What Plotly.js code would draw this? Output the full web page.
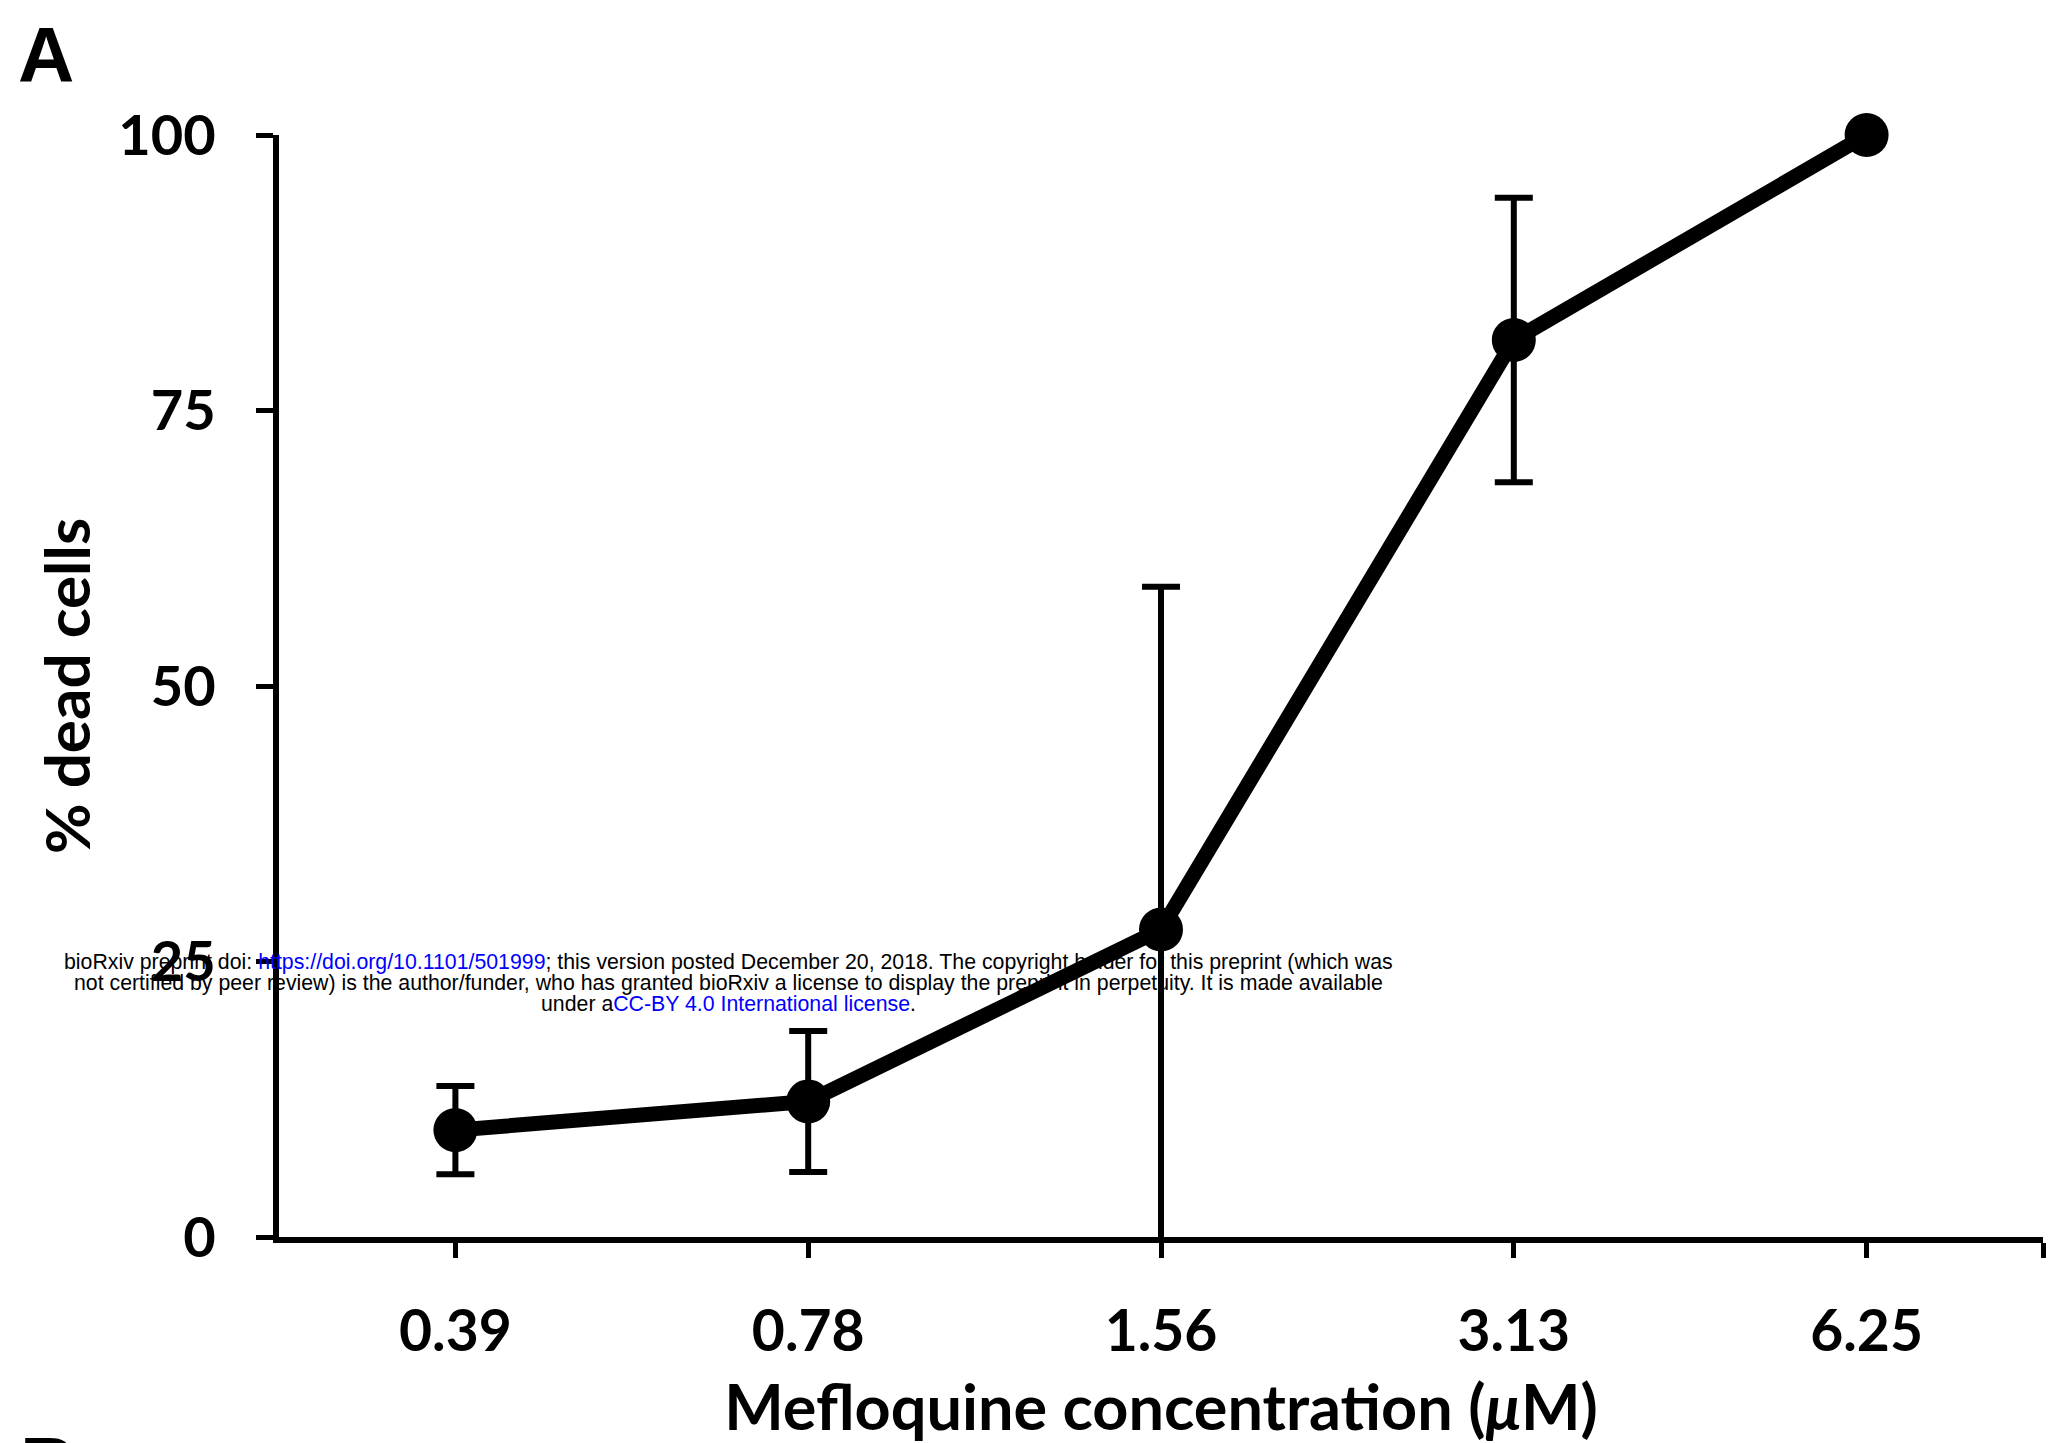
<!DOCTYPE html>
<html>
<head>
<meta charset="utf-8">
<script src="https://cdn.plot.ly/plotly-3.0.1.min.js"></script>
<style>html,body{margin:0;padding:0;background:#fff;}#chart{width:2057px;height:1443px;}</style>
</head>
<body>
<div id="chart"></div>
<script>
// Data
const concentrations = ["0.39", "0.78", "1.56", "3.13", "6.25"];
const deadCells = [9.7, 12.3, 27.9, 81.4, 100];
const errorSD = [4.0, 6.4, 31.1, 12.9, null];
const yTicks = [0, 25, 50, 75, 100];

const xPos = concentrations.map((c, i) => i);
const chartFont = "Lato, 'Open Sans', sans-serif";
const wmFont = "'Liberation Sans', Arial, sans-serif";

// line + error bars (clipped to the plot area, so the long bar stops at the x axis)
const lineTrace = {
  type: "scatter",
  mode: "lines",
  x: xPos,
  y: deadCells,
  line: {color: "#000", width: 15},
  error_y: {type: "data", array: errorSD, visible: true, color: "#000", thickness: 6, width: 19},
  cliponaxis: true,
  hoverinfo: "skip"
};
// markers (not clipped, so the point at 100 shows whole)
const markerTrace = {
  type: "scatter",
  mode: "markers",
  x: xPos,
  y: deadCells,
  marker: {color: "#000", size: 44},
  cliponaxis: false,
  hoverinfo: "skip"
};

const L = 279, R = 2043, T = 135, B = 1237;
const PW = R - L, PH = B - T;
const px = v => (v - L) / PW;
const py = v => (B - v) / PH;

const layout = {
  width: 2057, height: 1443,
  margin: {l: L, r: 2057 - R, t: T, b: 1443 - B, pad: 0},
  paper_bgcolor: "#fff", plot_bgcolor: "#fff",
  showlegend: false,
  font: {family: chartFont, color: "#000"},
  xaxis: {
    range: [-0.5, 4.5],
    tickvals: xPos.concat([4.5]),
    ticktext: concentrations.concat([""]),
    showgrid: false, zeroline: false,
    showline: true, linecolor: "#000", linewidth: 6,
    ticks: "outside", ticklen: 15, tickwidth: 5, tickcolor: "#000",
    ticklabelstandoff: 25,
    tickfont: {family: chartFont, size: 57, color: "#000", weight: "bold"},
    title: {text: "Mefloquine concentration (<i>μ</i>M)", standoff: 30,
            font: {family: chartFont, size: 63, color: "#000", weight: "bold"}}
  },
  yaxis: {
    range: [0, 100],
    tickvals: yTicks,
    ticktext: yTicks.map(String),
    showgrid: false, zeroline: false,
    showline: true, linecolor: "#000", linewidth: 6,
    ticks: "outside", ticklen: 17, tickwidth: 5, tickcolor: "#000",
    ticklabelstandoff: 29,
    tickfont: {family: chartFont, size: 56, color: "#000", weight: "bold"},
    title: {text: "% dead cells", standoff: 10,
            font: {family: chartFont, size: 62, color: "#000", weight: "bold"}}
  },
  annotations: [
    {text: "A", xref: "paper", yref: "paper", x: px(46), y: py(55), xanchor: "center", yanchor: "middle",
     showarrow: false, font: {family: "'Liberation Sans', Arial, sans-serif", size: 78, color: "#000", weight: "bold"}},
    {text: "B", xref: "paper", yref: "paper", x: px(48), y: py(1465), xanchor: "center", yanchor: "middle",
     showarrow: false, font: {family: "'Liberation Sans', Arial, sans-serif", size: 78, color: "#000", weight: "bold"}},
    {text: "bioRxiv preprint doi: <span style='color:#0000ff'>https://doi.org/10.1101/501999</span>; this version posted December 20, 2018. The copyright holder for this preprint (which was",
     xref: "paper", yref: "paper", x: px(728), y: py(962), xanchor: "center", yanchor: "middle",
     showarrow: false, font: {family: wmFont, size: 21.3, color: "#000"}},
    {text: "not certified by peer review) is the author/funder, who has granted bioRxiv a license to display the preprint in perpetuity. It is made available",
     xref: "paper", yref: "paper", x: px(728), y: py(983), xanchor: "center", yanchor: "middle",
     showarrow: false, font: {family: wmFont, size: 21.3, color: "#000"}},
    {text: "under a<span style='color:#0000ff'>CC-BY 4.0 International license</span>.",
     xref: "paper", yref: "paper", x: px(728), y: py(1004), xanchor: "center", yanchor: "middle",
     showarrow: false, font: {family: wmFont, size: 21.3, color: "#000"}}
  ]
};

Plotly.newPlot("chart", [lineTrace, markerTrace], layout, {displayModeBar: false, staticPlot: true});
</script>
</body>
</html>
